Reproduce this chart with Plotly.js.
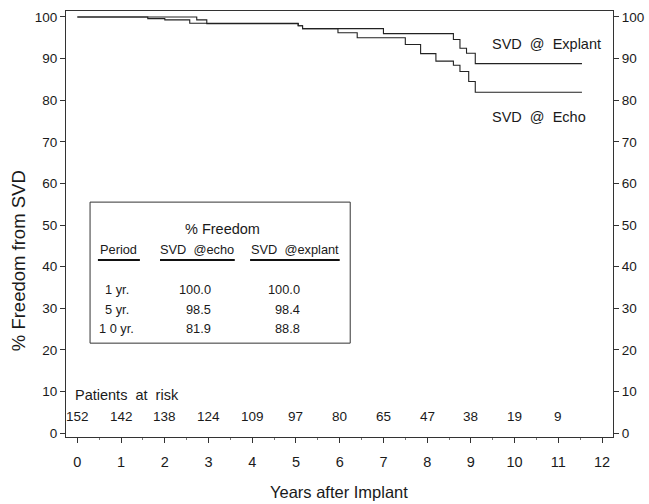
<!DOCTYPE html>
<html><head><meta charset="utf-8">
<script src="https://cdn.plot.ly/plotly-3.0.1.min.js"></script>
<style>body{margin:0;background:#fff}#c{width:649px;height:504px}</style></head>
<body><div id="c"></div>
<script>
// Kaplan-Meier style step data (years after implant, % freedom)
const echoYears     = [0, 1.61, 2.0, 2.57, 5.05, 5.15, 5.96, 6.4, 7.5, 7.85, 8.2, 8.6, 8.75, 8.95, 9.1, 11.54];
const echoFreedom   = [100, 99.6, 99.3, 98.5, 97.9, 97.2, 96.2, 95.0, 93.4, 91.2, 89.4, 88.4, 86.9, 84.5, 81.9, 81.9];
const explantYears  = [0, 2.73, 2.96, 5.05, 5.15, 7.0, 8.6, 8.75, 8.9, 9.1, 11.54];
const explantFreedom= [100, 99.3, 98.4, 97.9, 97.2, 96.0, 94.6, 92.5, 91.3, 88.8, 88.8];
// Patients at risk
const riskYears  = [0,1,2,3,4,5,6,7,8,9,10,11];
const riskCounts = [152,142,138,124,109,97,80,65,47,38,19,9];
// Inset table
const tableTitle   = '% Freedom';
const tableHeaders = ['Period','SVD  @echo','SVD  @explant'];
const tablePeriods = ['1 yr.','5 yr.','1 0 yr.'];
const tableEcho    = ['100.0','98.5','81.9'];
const tableExplant = ['100.0','98.4','88.8'];
const yTicks = [0,10,20,30,40,50,60,70,80,90,100];
const xTicks = [0,1,2,3,4,5,6,7,8,9,10,11,12];

const FONT = 'Liberation Sans, Arial, sans-serif';
const INK = '#1a1a1a';

const traces = [
  {x: explantYears, y: explantFreedom, mode:'lines', line:{shape:'hv', color:'#222', width:1.1}, hoverinfo:'skip'},
  {x: echoYears, y: echoFreedom, mode:'lines', line:{shape:'hv', color:'#222', width:1.1}, hoverinfo:'skip'},
  {x: [0], y: [100], yaxis:'y2', mode:'markers', marker:{opacity:0}, hoverinfo:'skip'}
];

const ann = [];
function t(x,y,text,opts){ ann.push(Object.assign({x:x,y:y,xref:'x',yref:'y',text:text,showarrow:false,font:{family:FONT,size:13,color:INK}},opts||{})); }

t(9.44, 93.6, 'SVD  @  Explant', {xanchor:'left', font:{family:FONT,size:14.5,color:INK}});
t(9.44, 76.0, 'SVD  @  Echo', {xanchor:'left', font:{family:FONT,size:14.5,color:INK}});
t(-0.1, 9.1, 'Patients  at  risk', {xanchor:'left', font:{family:FONT,size:14.5,color:INK}});
riskYears.forEach((yr,i)=>t(yr, 3.85, String(riskCounts[i]), {xanchor:'center', font:{family:FONT,size:13.5,color:INK}}));

// Axis titles (placed as in the reference)
ann.push({xref:'paper', yref:'y', x:0, y:41.3, xanchor:'center', yanchor:'middle', xshift:-48,
  textangle:-90, text:'% Freedom from SVD', showarrow:false, font:{family:FONT, size:18.5, color:INK}});
ann.push({xref:'x', yref:'paper', x:5.98, y:0, xanchor:'center', yanchor:'middle', yshift:-55,
  text:'Years after Implant', showarrow:false, font:{family:FONT, size:16.5, color:INK}});

// Table
t(3.31, 49.0, tableTitle, {xanchor:'center', font:{family:FONT,size:14.5,color:INK}});
const hdrX = [0.93, 2.73, 4.98];
tableHeaders.forEach((h,i)=>t(hdrX[i], 44.0, h, {xanchor:'center', font:{family:FONT,size:12.8,color:INK}}));
const rowY = [34.4, 29.8, 25.2];
tablePeriods.forEach((p,i)=>{
  t(0.9, rowY[i], p, {xanchor:'center', font:{family:FONT,size:12.8,color:INK}});
  t(3.10, rowY[i], tableEcho[i], {xanchor:'right', font:{family:FONT,size:12.8,color:INK}});
  t(5.14, rowY[i], tableExplant[i], {xanchor:'right', font:{family:FONT,size:12.8,color:INK}});
});

const shapes = [
  {type:'rect', xref:'x', yref:'y', x0:0.29, x1:6.24, y0:21.6, y1:55.5, line:{color:'#333', width:1}},
  {type:'line', xref:'x', yref:'y', x0:0.47, x1:1.43, y0:41.6, y1:41.6, line:{color:'#111', width:2}},
  {type:'line', xref:'x', yref:'y', x0:1.89, x1:3.6, y0:41.6, y1:41.6, line:{color:'#111', width:2}},
  {type:'line', xref:'x', yref:'y', x0:3.95, x1:6.0, y0:41.6, y1:41.6, line:{color:'#111', width:2}}
];

const yaxisCommon = {
  range:[-0.96, 101.44], tickvals:yTicks, ticks:'outside', ticklen:5, tickcolor:'#333',
  showgrid:false, zeroline:false, showline:true, linecolor:'#333', linewidth:1,
  tickfont:{family:FONT, size:13.5, color:INK}, fixedrange:true
};

const layout = {
  width:649, height:504,
  margin:{l:66, r:36, t:11, b:67},
  paper_bgcolor:'#fff', plot_bgcolor:'#fff',
  showlegend:false,
  font:{family:FONT, color:INK},
  xaxis:{
    range:[-0.26, 12.25], tickvals:xTicks, ticks:'outside', ticklen:5, tickcolor:'#333',
    showgrid:false, zeroline:false, showline:true, mirror:true, linecolor:'#333', linewidth:1,
    tickfont:{family:FONT, size:14.5, color:INK}, ticklabelstandoff:7,
    minor:{dtick:0.5, ticks:'outside', ticklen:2, tickcolor:'#777', showgrid:false}
  },
  yaxis: Object.assign({}, yaxisCommon, {side:'left'}),
  yaxis2: Object.assign({}, yaxisCommon, {side:'right', overlaying:'y'}),
  annotations: ann,
  shapes: shapes
};

Plotly.newPlot('c', traces, layout, {staticPlot:true, displayModeBar:false});
</script>
</body></html>
